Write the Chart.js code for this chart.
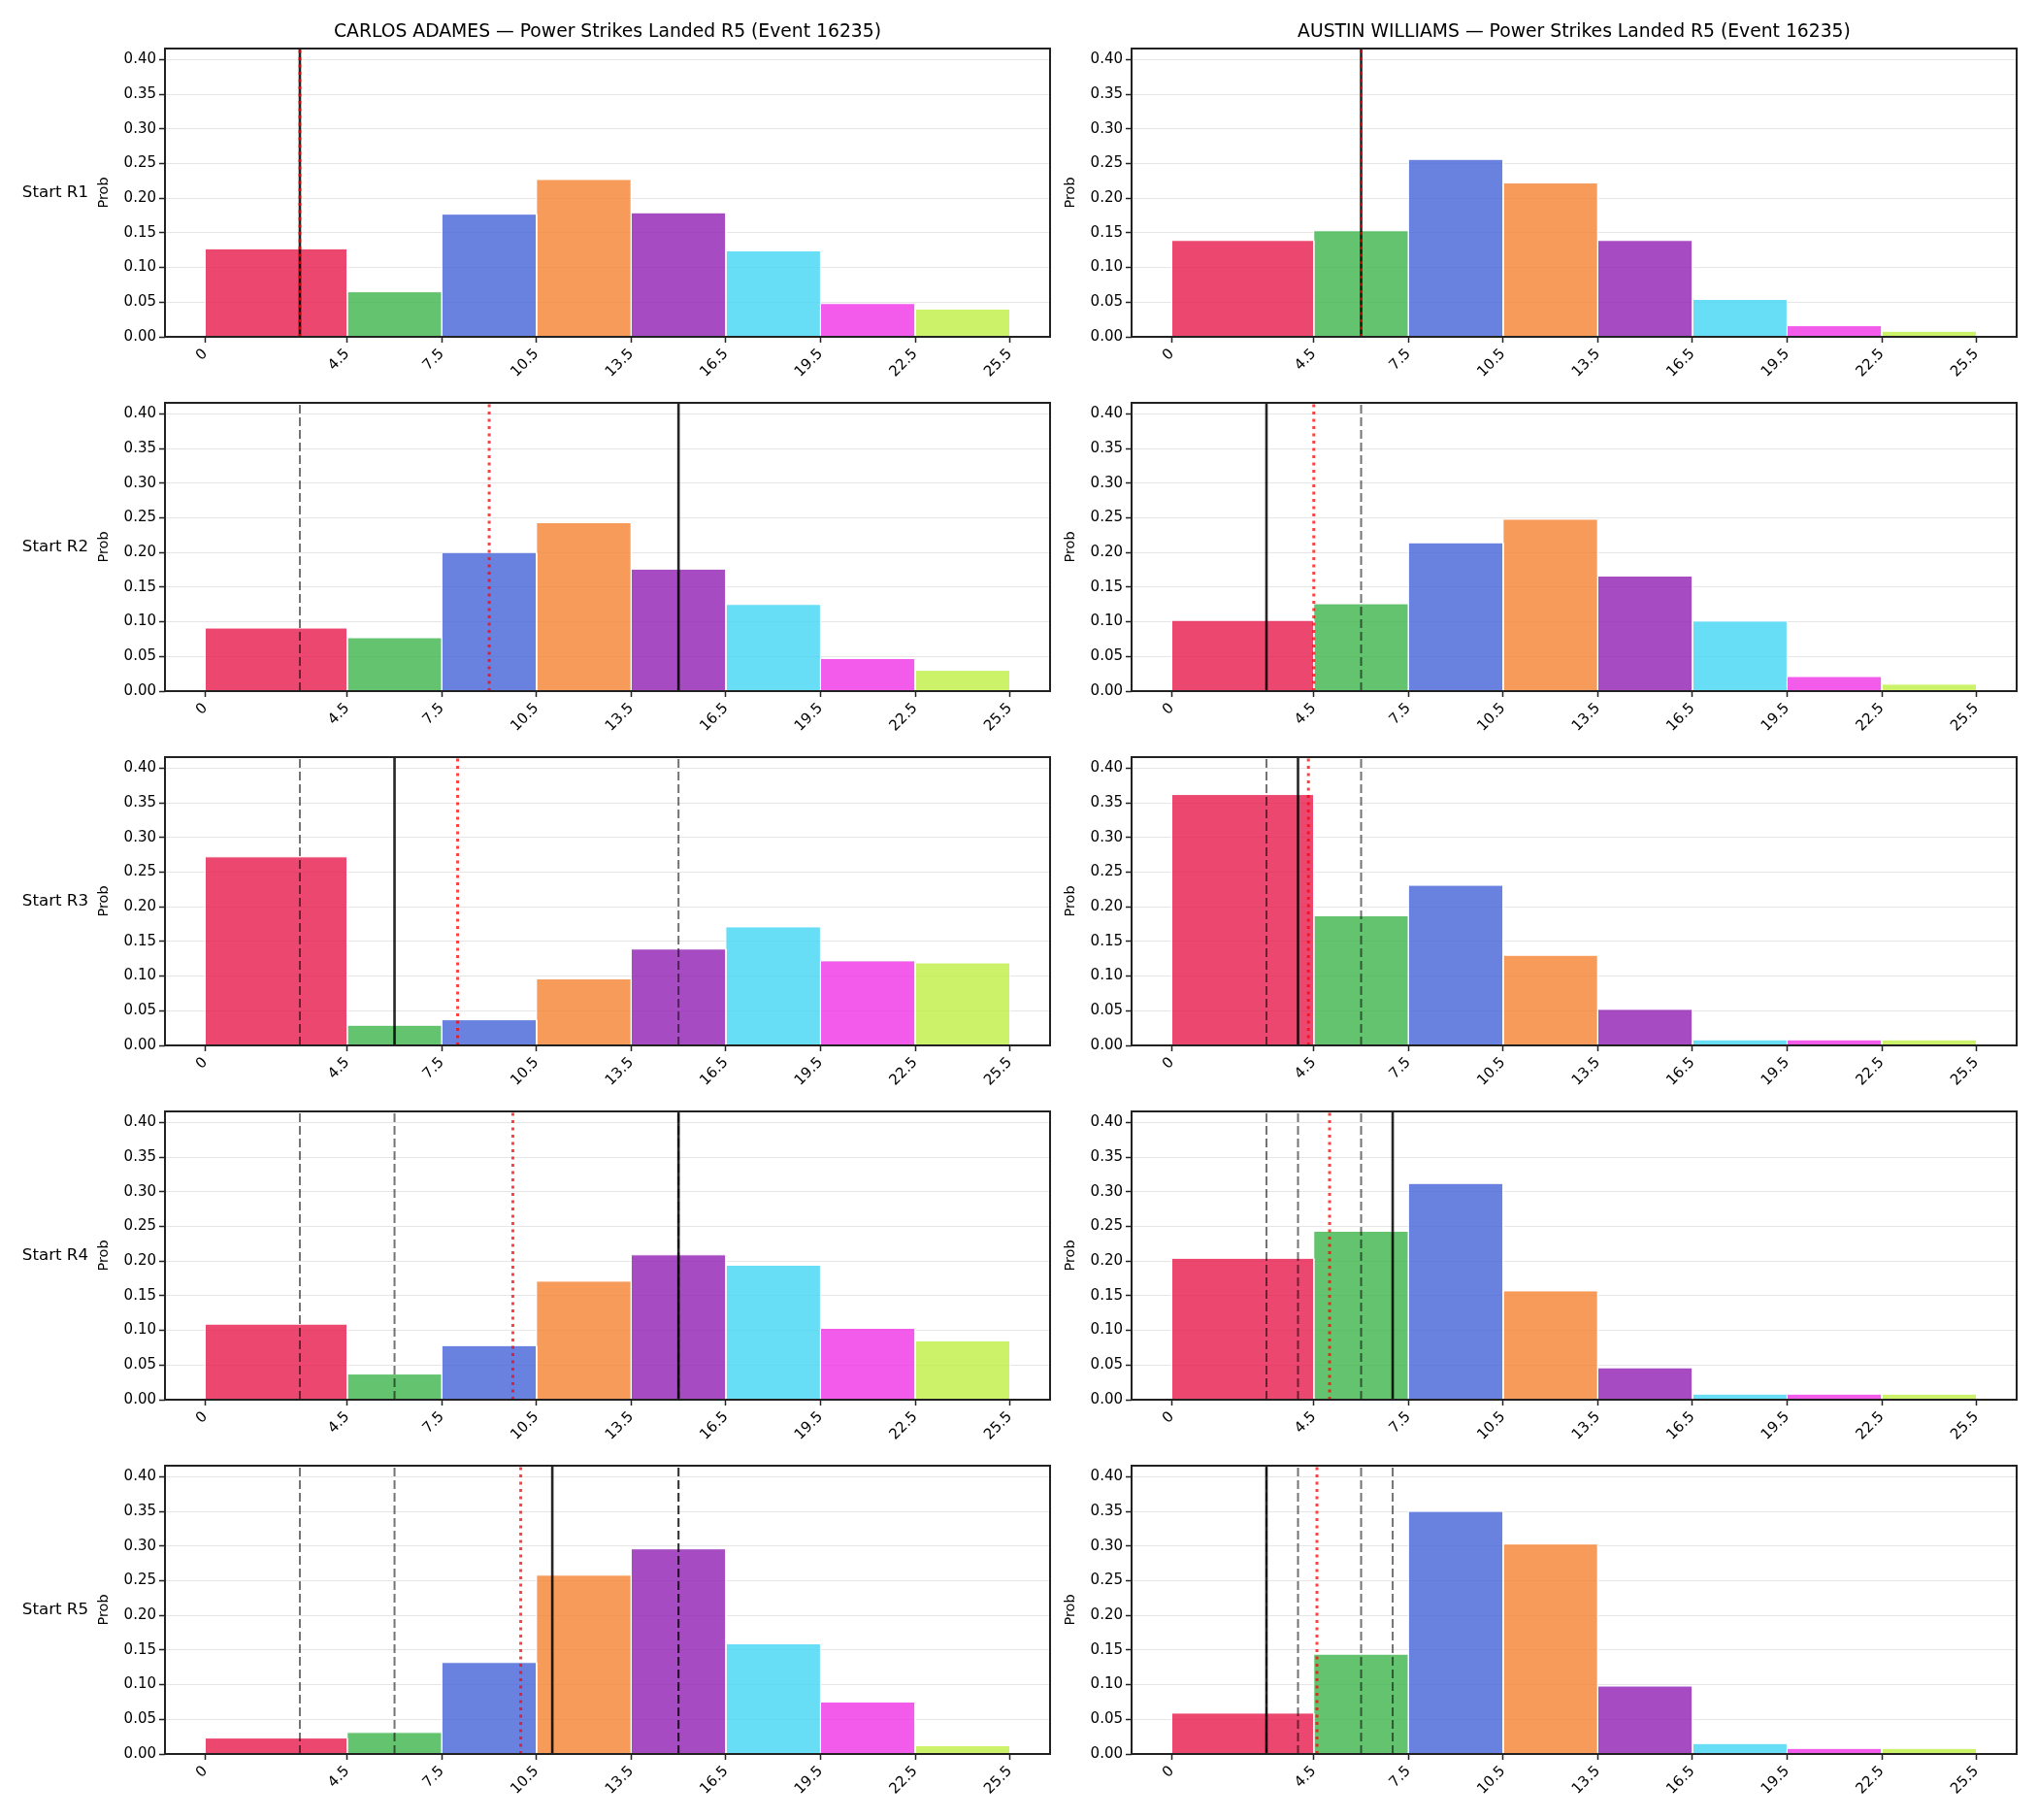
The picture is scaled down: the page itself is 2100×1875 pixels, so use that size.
<!DOCTYPE html>
<html>
<head>
<meta charset="utf-8">
<script src="https://cdn.jsdelivr.net/npm/chart.js@4.4.0/dist/chart.umd.min.js"></script>
<style>
body { margin: 0; background: #fff; width: 2100px; height: 1875px; position: relative; overflow: hidden; font-family: 'DejaVu Sans', sans-serif; }
canvas { position: absolute; }
.ttl { position: absolute; font-size: 18.75px; color: #000; text-align: center; white-space: nowrap; line-height: 28px; }
.rowlab { position: absolute; font-size: 16.67px; color: #000; text-align: right; white-space: nowrap; line-height: 24px; }
</style>
</head>
<body>
<script>
// bins and ticks
var binEdges = [0, 4.5, 7.5, 10.5, 13.5, 16.5, 19.5, 22.5, 25.5];
var xTickLabels = ['0', '4.5', '7.5', '10.5', '13.5', '16.5', '19.5', '22.5', '25.5'];
var yTicks = [0, 0.05, 0.10, 0.15, 0.20, 0.25, 0.30, 0.35, 0.40];
var Y_MAX = 0.416;
var rounds = ['Start R1', 'Start R2', 'Start R3', 'Start R4', 'Start R5'];
var fighters = ['CARLOS ADAMES', 'AUSTIN WILLIAMS'];
var binColors = ['rgba(230,25,75,0.8)', 'rgba(60,180,75,0.8)', 'rgba(67,99,216,0.8)', 'rgba(245,130,49,0.8)',
                 'rgba(145,30,180,0.8)', 'rgba(66,212,244,0.8)', 'rgba(240,50,230,0.8)', 'rgba(191,239,69,0.8)'];

// probabilities per round (rows = Start R1..R5)
var adamesProbs = [
    [0.127, 0.065, 0.177, 0.227, 0.179, 0.124, 0.048, 0.040],
    [0.091, 0.077, 0.200, 0.243, 0.176, 0.125, 0.047, 0.030],
    [0.272, 0.029, 0.037, 0.096, 0.139, 0.171, 0.122, 0.119],
    [0.109, 0.037, 0.078, 0.171, 0.209, 0.194, 0.103, 0.085],
    [0.023, 0.031, 0.132, 0.258, 0.296, 0.159, 0.075, 0.012]
];
var williamsProbs = [
    [0.139, 0.153, 0.256, 0.222, 0.139, 0.054, 0.016, 0.008],
    [0.102, 0.126, 0.214, 0.248, 0.166, 0.101, 0.021, 0.010],
    [0.362, 0.187, 0.231, 0.130, 0.052, 0.008, 0.008, 0.008],
    [0.204, 0.243, 0.312, 0.157, 0.046, 0.008, 0.008, 0.008],
    [0.059, 0.144, 0.350, 0.303, 0.098, 0.015, 0.008, 0.008]
];

// solid black = value for the round, dashed = earlier rounds, red dotted = running mean
var adamesActual = [3, 15, 6, 15, 11];
var adamesMean = [3, 9, 8, 9.75, 10];
var williamsActual = [6, 3, 4, 7, 3];
var williamsMean = [6, 4.5, 4.33, 5, 4.6];

var FONT = 'DejaVu Sans';
Chart.defaults.font.family = FONT;
Chart.defaults.color = '#000';

var colLeft = [170, 1166];
var rowTop = [50, 415, 780, 1145, 1510];
var AX_W = 912, AX_H = 297;
var PAD_T = 20, Y_W = 170, X_H = 70, PAD_R = 14;

var framePlugin = {
    id: 'frame',
    afterDraw: function (chart) {
        var a = chart.chartArea, ctx = chart.ctx;
        ctx.save();
        ctx.strokeStyle = '#222';
        ctx.lineWidth = 2;
        ctx.strokeRect(a.left, a.top, a.right - a.left, a.bottom - a.top);
        ctx.restore();
    }
};

function vline(x, color, width, dash, order) {
    return {
        data: [{x: x, y: 0}, {x: x, y: Y_MAX}],
        showLine: true, fill: false, pointRadius: 0,
        borderColor: color, borderWidth: width, borderDash: dash, order: order
    };
}

function makeChart(col, row, probs, actual, mean) {
    var cv = document.createElement('canvas');
    var w = Y_W + AX_W + PAD_R, h = PAD_T + AX_H + X_H;
    cv.width = w; cv.height = h;
    cv.style.left = (colLeft[col] - Y_W) + 'px';
    cv.style.top = (rowTop[row] - PAD_T) + 'px';
    document.body.appendChild(cv);

    var datasets = [];
    for (var i = 0; i < probs.length; i++) {
        var p = probs[i];
        datasets.push({
            data: [{x: binEdges[i], y: 0}, {x: binEdges[i], y: p}, {x: binEdges[i + 1], y: p}, {x: binEdges[i + 1], y: 0}],
            showLine: true, fill: 'origin', pointRadius: 0, tension: 0,
            backgroundColor: binColors[i], borderColor: '#fff', borderWidth: 1, order: 5
        });
    }
    for (var k = 0; k < row; k++) {
        datasets.push(vline(actual[k], 'rgba(0,0,0,0.55)', 2, [9, 4], 3));
    }
    datasets.push(vline(actual[row], 'rgba(0,0,0,0.85)', 2.6, [], 2));
    datasets.push(vline(mean[row], 'rgba(255,0,0,0.75)', 3, [3, 4.5], 1));

    new Chart(cv.getContext('2d'), {
        type: 'scatter',
        data: {datasets: datasets},
        options: {
            responsive: false,
            animation: false,
            devicePixelRatio: 1,
            layout: {padding: {left: 0, top: PAD_T, right: PAD_R, bottom: 0}},
            plugins: {legend: {display: false}, tooltip: {enabled: false}},
            scales: {
                x: {
                    type: 'linear', min: -1.275, max: 26.775,
                    afterBuildTicks: function (s) { s.ticks = binEdges.map(function (v) { return {value: v}; }); },
                    afterFit: function (s) { s.height = X_H; },
                    ticks: {
                        autoSkip: false, minRotation: 45, maxRotation: 45, padding: 3,
                        font: {size: 15}, color: '#000',
                        callback: function (v, i) { return xTickLabels[i]; }
                    },
                    grid: {drawOnChartArea: false, tickColor: '#222', tickLength: 6, tickWidth: 1.5},
                    border: {display: false}
                },
                y: {
                    min: 0, max: Y_MAX,
                    afterBuildTicks: function (s) { s.ticks = yTicks.map(function (v) { return {value: v}; }); },
                    afterFit: function (s) { s.width = Y_W; },
                    ticks: {
                        font: {size: 15}, color: '#000', padding: 3,
                        callback: function (v) { return v.toFixed(2); }
                    },
                    grid: {color: '#e6e6e6', lineWidth: 1, tickColor: '#222', tickLength: 6, tickWidth: 1.5},
                    border: {display: false},
                    title: {display: true, text: 'Prob', font: {size: 14.5}, color: '#000', padding: {top: 99, bottom: 0}}
                }
            }
        },
        plugins: [framePlugin]
    });
}

for (var r = 0; r < rounds.length; r++) {
    makeChart(0, r, adamesProbs[r], adamesActual, adamesMean);
    makeChart(1, r, williamsProbs[r], williamsActual, williamsMean);

    var lab = document.createElement('div');
    lab.className = 'rowlab';
    lab.textContent = rounds[r];
    lab.style.left = '0px';
    lab.style.width = '91px';
    lab.style.top = (rowTop[r] + AX_H / 2 - 13) + 'px';
    document.body.appendChild(lab);
}

for (var c = 0; c < fighters.length; c++) {
    var t = document.createElement('div');
    t.className = 'ttl';
    t.textContent = fighters[c] + ' \u2014 Power Strikes Landed R5 (Event 16235)';
    t.style.left = colLeft[c] + 'px';
    t.style.width = AX_W + 'px';
    t.style.top = '18px';
    document.body.appendChild(t);
}
</script>
</body>
</html>
